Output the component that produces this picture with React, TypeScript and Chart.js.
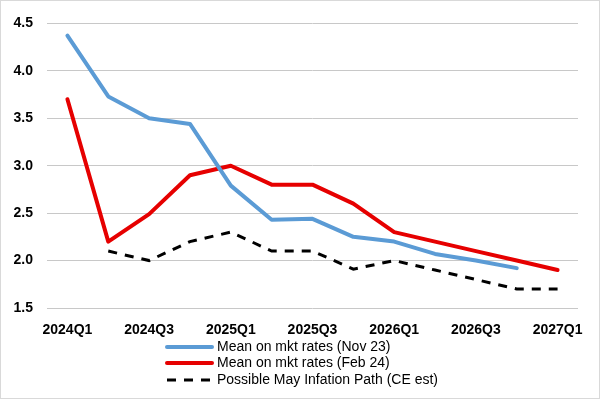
import React, { useEffect, useRef } from "react";
import { Chart, registerables } from "chart.js";

Chart.register(...registerables);

const categories = [
  "2024Q1", "2024Q2", "2024Q3", "2024Q4",
  "2025Q1", "2025Q2", "2025Q3", "2025Q4",
  "2026Q1", "2026Q2", "2026Q3", "2026Q4",
  "2027Q1",
];

const nov23 = [4.37, 3.73, 3.5, 3.44, 2.79, 2.43, 2.44, 2.25, 2.2, 2.07, 2.0, 1.92, null];
const feb24 = [3.7, 2.2, 2.49, 2.9, 3.0, 2.8, 2.8, 2.6, 2.3, 2.2, 2.1, 2.0, 1.9];
const mayPath = [null, 2.1, 2.0, 2.2, 2.3, 2.1, 2.1, 1.91, 2.0, 1.9, 1.8, 1.7, 1.7];

const seriesNames = [
  "Mean on mkt rates (Nov 23)",
  "Mean on mkt rates (Feb 24)",
  "Possible May Infation Path (CE est)",
];

const yTicks = [1.5, 2.0, 2.5, 3.0, 3.5, 4.0, 4.5];

const FONT = "'Liberation Sans', Arial, sans-serif";

const legendPlugin = {
  id: "customLegend",
  afterDraw(chart: any) {
    const ctx = chart.ctx;
    const x0 = 166;
    const x1 = 211;
    const tx = 216;
    const ys = [346, 362, 379];
    ctx.save();
    chart.data.datasets.forEach((ds: any, i: number) => {
      const y = ys[i];
      ctx.beginPath();
      ctx.strokeStyle = ds.borderColor;
      ctx.lineWidth = ds.borderWidth;
      ctx.lineCap = ds.borderDash && ds.borderDash.length ? "butt" : "round";
      ctx.setLineDash(ds.borderDash || []);
      ctx.moveTo(x0, y);
      ctx.lineTo(x1, y);
      ctx.stroke();
      ctx.setLineDash([]);
      ctx.fillStyle = "#000";
      ctx.font = "14px " + FONT;
      ctx.textBaseline = "middle";
      ctx.textAlign = "left";
      ctx.fillText(ds.label, tx, y);
    });
    ctx.restore();
  },
};

export default function App() {
  const ref = useRef<HTMLCanvasElement | null>(null);

  useEffect(() => {
    document.body.style.margin = "0";
    const canvas = ref.current;
    if (!canvas) return;
    const chart = new Chart(canvas, {
      type: "line",
      data: {
        labels: categories,
        datasets: [
          {
            label: seriesNames[0],
            data: nov23,
            borderColor: "#5b9bd5",
            backgroundColor: "#5b9bd5",
            borderWidth: 4,
            pointRadius: 0,
            tension: 0,
            borderJoinStyle: "round",
            borderCapStyle: "round",
            spanGaps: false,
          },
          {
            label: seriesNames[1],
            data: feb24,
            borderColor: "#e60000",
            backgroundColor: "#e60000",
            borderWidth: 4,
            pointRadius: 0,
            tension: 0,
            borderJoinStyle: "round",
            borderCapStyle: "round",
          },
          {
            label: seriesNames[2],
            data: mayPath,
            borderColor: "#000000",
            backgroundColor: "#000000",
            borderWidth: 3,
            borderDash: [9, 8],
            pointRadius: 0,
            tension: 0,
          },
        ],
      },
      options: {
        responsive: false,
        animation: false,
        layout: { padding: { top: 9, right: 21, bottom: 0, left: 0 } },
        plugins: {
          legend: { display: false },
          tooltip: { enabled: false },
        },
        scales: {
          x: {
            offset: true,
            grid: { display: false, drawTicks: false },
            border: { display: false },
            ticks: {
              autoSkip: false,
              maxRotation: 0,
              padding: 14,
              color: "#000",
              font: { family: FONT, size: 14, weight: "bold" },
              callback: (_v: any, i: number) => (i % 2 === 0 ? categories[i] : ""),
            },
            afterFit: (s: any) => {
              s.height = 90;
            },
          },
          y: {
            min: 1.5,
            max: 4.5,
            afterBuildTicks: (s: any) => {
              s.ticks = yTicks.map((v) => ({ value: v }));
            },
            grid: { color: "#c8c8c8", lineWidth: 1, drawTicks: false },
            border: { display: false },
            ticks: {
              padding: 14,
              color: "#000",
              font: { family: FONT, size: 14, weight: "bold" },
              callback: (v: any) => Number(v).toFixed(1),
            },
            afterFit: (s: any) => {
              s.width = 46;
            },
          },
        },
      },
      plugins: [legendPlugin],
    } as any);
    return () => chart.destroy();
  }, []);

  return (
    <div
      style={{
        width: 600,
        height: 399,
        boxSizing: "border-box",
        border: "1px solid #d9d9d9",
        background: "#fff",
        position: "relative",
      }}
    >
      <canvas
        ref={ref}
        width={598}
        height={397}
        style={{ display: "block", width: 598, height: 397 }}
      />
    </div>
  );
}
